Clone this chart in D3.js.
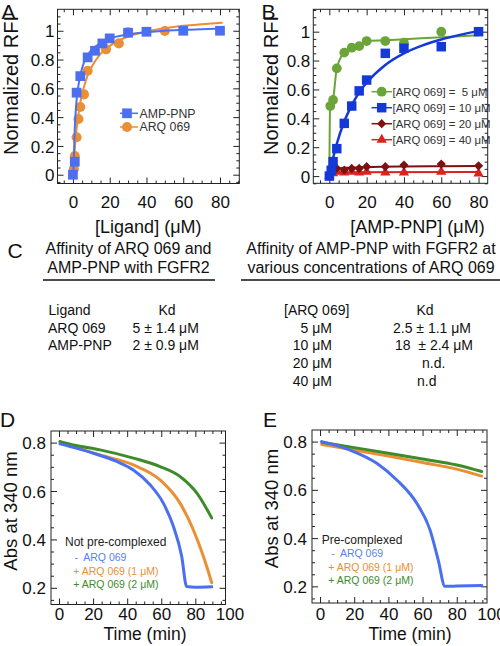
<!DOCTYPE html>
<html><head><meta charset="utf-8">
<script src="https://cdn.jsdelivr.net/npm/d3@7"></script>
<style>
body{margin:0;background:#fff}
svg{display:block}
text{font-family:"Liberation Sans",Arial,Helvetica,sans-serif}
</style>
</head><body>
<svg id="fig" width="500" height="646"></svg>
<script>
// ---------- Panel A data ----------
const aAmpX = [0, 1, 2, 4, 8, 12, 16, 20, 30, 40, 60, 80];
const aAmpY = [0, 0.09, 0.57, 0.685, 0.815, 0.861, 0.912, 0.947, 0.986, 0.993, 1.0, 1.0];
const aArqX = [0.5, 1, 2, 3, 4, 6, 8, 18, 25, 30, 50];
const aArqY = [0.04, 0.13, 0.26, 0.387, 0.47, 0.558, 0.722, 0.871, 0.912, 0.99, 0.998];
const aAmpFitX = [0.2, 1, 2, 3, 4, 6, 8, 10, 15, 20, 30, 40, 50, 60, 70, 81];
const aAmpFitY = [0, 0.32, 0.52, 0.62, 0.69, 0.78, 0.83, 0.865, 0.915, 0.945, 0.975, 0.99, 1.0, 1.006, 1.011, 1.015];
const aArqFitX = [0.5, 1, 2, 3, 4, 6, 8, 10, 15, 20, 30, 40, 50, 60, 70, 81];
const aArqFitY = [0.05, 0.18, 0.32, 0.42, 0.5, 0.61, 0.69, 0.745, 0.84, 0.895, 0.96, 0.995, 1.018, 1.034, 1.045, 1.055];
const aLegend = ["AMP-PNP", "ARQ 069"];

// ---------- Panel B data ----------
const b5X = [0.5, 2, 4, 8, 12, 16, 20, 30, 40, 60];
const b5Y = [0.485, 0.527, 0.746, 0.855, 0.889, 0.90, 0.935, 0.935, 0.924, 1.0];
const b10X = [0, 1, 2, 4, 8, 12, 16, 20, 30, 40, 60, 80];
const b10Y = [0, 0.04, 0.1, 0.19, 0.365, 0.485, 0.59, 0.665, 0.85, 0.885, 0.896, 1.0];
const b20X = [0, 1, 2, 4, 8, 12, 16, 20, 30, 40, 60, 80];
const b20Y = [0, 0.03, 0.045, 0.053, 0.042, 0.053, 0.053, 0.065, 0.065, 0.076, 0.083, 0.071];
const b40X = [0, 2, 4, 8, 12, 16, 20, 30, 40, 60, 80];
const b40Y = [0, 0.02, 0.03, 0.025, 0.03, 0.025, 0.03, 0.025, 0.025, 0.03, 0.018];
const b5FitX = [0, 0.4, 2, 4, 8, 12, 16, 20, 30, 40, 60, 80];
const b5FitY = [0, 0.48, 0.53, 0.746, 0.855, 0.885, 0.9, 0.935, 0.94, 0.947, 0.962, 0.975];
const b10FitX = [0, 1, 2, 4, 8, 12, 16, 20, 30, 40, 50, 60, 70, 80];
const b10FitY = [0, 0.065, 0.124, 0.224, 0.378, 0.49, 0.58, 0.647, 0.77, 0.85, 0.905, 0.946, 0.978, 1.004];
const b20FitX = [0, 1, 2, 4, 8, 20, 40, 60, 80];
const b20FitY = [0, 0.03, 0.045, 0.052, 0.057, 0.062, 0.066, 0.068, 0.07];
const b40FitX = [0, 1, 2, 4, 80];
const b40FitY = [0, 0.015, 0.022, 0.026, 0.028];
const bLegend = ["[ARQ 069] =  5 \u03bcM", "[ARQ 069] = 10 \u03bcM", "[ARQ 069] = 20 \u03bcM", "[ARQ 069] = 40 \u03bcM"];

// ---------- Panel C table ----------
const cLeftHead = ["Affinity of ARQ 069 and", "AMP-PNP with FGFR2"];
const cRightHead = ["Affinity of AMP-PNP with FGFR2 at", "various concentrations of ARQ 069"];
const cLigands = ["ARQ 069", "AMP-PNP"];
const cLigandKd = ["5 \u00b1 1.4 \u03bcM", "2 \u00b1 0.9 \u03bcM"];
const cArqConc = ["5 \u03bcM", "10 \u03bcM", "20 \u03bcM", "40 \u03bcM"];
const cArqKd = ["2.5 \u00b1 1.1 \u03bcM", "18  \u00b1 2.4 \u03bcM", "n.d.", "n.d"];

// ---------- Panel D data (not pre-complexed) ----------
const dBlueX = [0.6, 10, 20.1, 33.9, 43.6, 53.4, 61.2, 67.1, 72.0, 74.9, 80, 89.6];
const dBlueY = [0.795, 0.777, 0.756, 0.722, 0.687, 0.626, 0.55, 0.454, 0.33, 0.205, 0.202, 0.204];
const dOrangeX = [0.6, 10, 24.1, 43.6, 59.3, 71.0, 78.8, 84.7, 89.6];
const dOrangeY = [0.804, 0.78, 0.749, 0.708, 0.646, 0.55, 0.44, 0.33, 0.221];
const dGreenX = [0.6, 10, 24.1, 43.6, 59.3, 71.0, 80.8, 89.6];
const dGreenY = [0.804, 0.788, 0.77, 0.736, 0.701, 0.66, 0.592, 0.489];

// ---------- Panel E data (pre-complexed) ----------
const eBlueX = [1.0, 17.6, 33.2, 44.9, 56.6, 64.4, 69.2, 73.1, 80, 94.6];
const eBlueY = [0.8, 0.765, 0.71, 0.641, 0.544, 0.433, 0.308, 0.2, 0.201, 0.204];
const eOrangeX = [1, 20, 40, 60, 80, 94.6];
const eOrangeY = [0.788, 0.765, 0.74, 0.713, 0.686, 0.657];
const eGreenX = [1, 20, 40, 60, 80, 94.6];
const eGreenY = [0.797, 0.775, 0.752, 0.728, 0.703, 0.676];
const legendD = ["Not pre-complexed", "-  ARQ 069", "+ ARQ 069 (1 \u03bcM)", "+ ARQ 069 (2 \u03bcM)"];
const legendE = ["Pre-complexed", "-  ARQ 069", "+ ARQ 069 (1 \u03bcM)", "+ ARQ 069 (2 \u03bcM)"];

// ---------- tick labels ----------
const rfiTicks = [0, 0.2, 0.4, 0.6, 0.8, 1];
const rfiLabels = ["0", "0.2", "0.4", "0.6", "0.8", "1"];
const concTicks = [0, 20, 40, 60, 80];
const absTicks = [0.2, 0.4, 0.6, 0.8];
const absLabels = ["0.2", "0.4", "0.6", "0.8"];
const timeTicks = [0, 20, 40, 60, 80, 100];

const zip = (xs, ys) => xs.map((x, i) => [x, ys[i]]);
const svg = d3.select("#fig");
const INK = "#111";

function makePanel(c) {
  const x = d3.scaleLinear().domain(c.xd).range([c.l, c.r]);
  const y = d3.scaleLinear().domain(c.yd).range([c.b, c.t]);
  const g = svg.append("g");
  const inX = v => v >= c.xd[0] && v <= c.xd[1];
  const inY = v => v >= c.yd[0] && v <= c.yd[1];
  const xMajor = c.xTicks.filter(inX), yMajor = c.yTicks.filter(inY);
  const xMinor = d3.range(Math.ceil(c.xd[0] / c.xMinor) * c.xMinor, c.xd[1], c.xMinor)
      .filter(v => !xMajor.some(m => Math.abs(m - v) < 1e-6));
  const yMinor = d3.range(Math.ceil(c.yd[0] / c.yMinor - 1e-6) * c.yMinor, c.yd[1], c.yMinor)
      .filter(v => !yMajor.some(m => Math.abs(m - v) < 1e-6));
  const tickG = (axis, tr) => {
    const a = g.append("g").attr("transform", tr).call(axis);
    a.select(".domain").remove();
    a.selectAll("line").attr("stroke", "#222").attr("stroke-width", 1);
    return a;
  };
  tickG(d3.axisBottom(x).tickValues(xMajor).tickSize(-6).tickFormat(""), `translate(0,${c.b})`);
  tickG(d3.axisBottom(x).tickValues(xMinor).tickSize(-3).tickFormat(""), `translate(0,${c.b})`);
  tickG(d3.axisTop(x).tickValues(xMajor).tickSize(-6).tickFormat(""), `translate(0,${c.t})`);
  tickG(d3.axisTop(x).tickValues(xMinor).tickSize(-3).tickFormat(""), `translate(0,${c.t})`);
  tickG(d3.axisLeft(y).tickValues(yMajor).tickSize(-6).tickFormat(""), `translate(${c.l},0)`);
  tickG(d3.axisLeft(y).tickValues(yMinor).tickSize(-3).tickFormat(""), `translate(${c.l},0)`);
  tickG(d3.axisRight(y).tickValues(yMajor).tickSize(-6).tickFormat(""), `translate(${c.r},0)`);
  tickG(d3.axisRight(y).tickValues(yMinor).tickSize(-3).tickFormat(""), `translate(${c.r},0)`);
  const xl = tickG(d3.axisBottom(x).tickValues(c.xTicks).tickSize(0).tickFormat(d => String(d)), `translate(0,${c.b})`);
  xl.selectAll("text").attr("y", c.xLabOff).attr("dy", null)
    .style("font-size", "17px").style("fill", INK);
  const yl = tickG(d3.axisLeft(y).tickValues(c.yTicks).tickSize(0).tickFormat((d, i) => c.yLabels[i]), `translate(${c.l},0)`);
  yl.selectAll("text").attr("x", -c.yLabGap).attr("dy", "0.36em")
    .style("font-size", "17px").style("fill", INK);
  g.append("rect").attr("x", c.l).attr("y", c.t).attr("width", c.r - c.l).attr("height", c.b - c.t)
    .attr("fill", "none").attr("stroke", "#222").attr("stroke-width", 1);
  g.append("text").attr("x", c.xtX).attr("y", c.xtY).attr("text-anchor", "middle")
    .style("font-size", c.xtSize + "px").style("fill", INK).text(c.xTitle);
  g.append("text").attr("transform", `translate(${c.ytX},${c.ytY}) rotate(-90)`).attr("text-anchor", "middle")
    .style("font-size", c.ytSize + "px").style("fill", INK).text(c.yTitle);
  g.append("text").attr("x", c.letX).attr("y", c.letY).style("font-size", "21px").style("fill", INK).text(c.letter);
  const plot = g.append("g");
  return {x, y, g: plot};
}

function line(p, pts, color, w) {
  p.g.append("path").datum(pts)
    .attr("d", d3.line().x(d => p.x(d[0])).y(d => p.y(d[1])).curve(d3.curveMonotoneX))
    .attr("fill", "none").attr("stroke", color).attr("stroke-width", w)
    .attr("stroke-linejoin", "round").attr("stroke-linecap", "round");
}
function marks(p, pts, type, size, color, rot) {
  p.g.selectAll(null).data(pts).enter().append("path")
    .attr("d", d3.symbol().type(type).size(size))
    .attr("transform", d => `translate(${p.x(d[0])},${p.y(d[1])})` + (rot ? ` rotate(${rot})` : ""))
    .attr("fill", color);
}

// ---------- Panel A ----------
const cBlueA = "#4b6ff0", cOrangeA = "#e98f35";
const pA = makePanel({l: 57.5, r: 239.3, t: 9.3, b: 183.5, xd: [-8.4, 90.5], yd: [-0.061, 1.149],
  xTicks: concTicks, xMinor: 5, yTicks: rfiTicks, yLabels: rfiLabels, yMinor: 0.05,
  xLabOff: 24.5, yLabGap: 3, xTitle: "[Ligand] (\u03bcM)", xtX: 148.3, xtY: 233, xtSize: 18,
  yTitle: "Normalized RFI", ytX: 17.5, ytY: 85.5, ytSize: 20, letter: "A", letX: 1.5, letY: 18.5});
line(pA, zip(aArqFitX, aArqFitY), cOrangeA, 2);
marks(pA, zip(aArqX, aArqY), d3.symbolCircle, 80, cOrangeA);
line(pA, zip(aAmpFitX, aAmpFitY), cBlueA, 2);
marks(pA, zip(aAmpX, aAmpY), d3.symbolSquare, 95, cBlueA);
[[cBlueA, d3.symbolSquare, 95, 113.3], [cOrangeA, d3.symbolCircle, 80, 127]].forEach((s, i) => {
  svg.append("line").attr("x1", 120).attr("x2", 138).attr("y1", s[3]).attr("y2", s[3])
    .attr("stroke", s[0]).attr("stroke-width", 1.5);
  svg.append("path").attr("d", d3.symbol().type(s[1]).size(s[2]))
    .attr("transform", `translate(127,${s[3]})`).attr("fill", s[0]);
  svg.append("text").attr("x", 139.5).attr("y", s[3] + 4.3).style("font-size", "12.3px")
    .style("fill", "#333").text(aLegend[i]);
});

// ---------- Panel B ----------
const cGreenB = "#6ba53a", cBlueB = "#1539d8", cDarkRedB = "#7d1010", cRedB = "#d8231f";
const pB = makePanel({l: 313.3, r: 487.7, t: 9.3, b: 183.3, xd: [-8.6, 84.9], yd: [-0.05, 1.155],
  xTicks: concTicks, xMinor: 5, yTicks: rfiTicks, yLabels: rfiLabels, yMinor: 0.05,
  xLabOff: 24.5, yLabGap: 3, xTitle: "[AMP-PNP] (\u03bcM)", xtX: 417.5, xtY: 233, xtSize: 18,
  yTitle: "Normalized RFI", ytX: 278, ytY: 85.5, ytSize: 20, letter: "B", letX: 261.5, letY: 18.5});
line(pB, zip(b40FitX, b40FitY), cRedB, 2);
marks(pB, zip(b40X, b40Y), d3.symbolTriangle, 45, cRedB);
line(pB, zip(b20FitX, b20FitY), cDarkRedB, 2);
marks(pB, zip(b20X, b20Y), d3.symbolSquare, 42, cDarkRedB, 45);
line(pB, zip(b5FitX, b5FitY), cGreenB, 2);
marks(pB, zip(b5X, b5Y), d3.symbolCircle, 75, cGreenB);
line(pB, zip(b10FitX, b10FitY), cBlueB, 2.5);
marks(pB, zip(b10X, b10Y), d3.symbolSquare, 90, cBlueB);
[[cGreenB, d3.symbolCircle, 75, 0], [cBlueB, d3.symbolSquare, 90, 0], [cDarkRedB, d3.symbolSquare, 42, 45], [cRedB, d3.symbolTriangle, 45, 0]]
  .forEach((s, i) => {
    const yy = 91.7 + i * 16;
    svg.append("line").attr("x1", 371.5).attr("x2", 392).attr("y1", yy).attr("y2", yy)
      .attr("stroke", s[0]).attr("stroke-width", 1.5);
    svg.append("path").attr("d", d3.symbol().type(s[1]).size(s[2]))
      .attr("transform", `translate(381.7,${yy})` + (s[3] ? ` rotate(${s[3]})` : "")).attr("fill", s[0]);
    svg.append("text").attr("x", 392.5).attr("y", yy + 4).style("font-size", "11.4px")
      .style("fill", "#333").style("white-space", "pre").attr("xml:space", "preserve").text(bLegend[i]);
  });

// ---------- Panel C ----------
const gc = svg.append("g");
const T = (x, y, s, size, anchor) => gc.append("text").attr("x", x).attr("y", y)
  .attr("text-anchor", anchor || "start").attr("xml:space", "preserve").style("white-space", "pre")
  .style("font-size", size).style("fill", INK).text(s);
T(7.5, 258, "C", "21px");
cLeftHead.forEach((t, i) => T(128.5, 254 + i * 18.7, t, "16px", "middle"));
cRightHead.forEach((t, i) => T(371, 254 + i * 18.7, t, "16px", "middle"));
gc.append("line").attr("x1", 43).attr("x2", 215).attr("y1", 280).attr("y2", 280).attr("stroke", "#111").attr("stroke-width", 1.3);
gc.append("line").attr("x1", 241).attr("x2", 500).attr("y1", 280).attr("y2", 280).attr("stroke", "#111").attr("stroke-width", 1.3);
const rowY = i => 315 + i * 17.7;
const ts = "14px";
T(48.5, rowY(0), "Ligand", ts);
T(167, rowY(0), "Kd", ts, "middle");
cLigands.forEach((t, i) => {
  T(48, rowY(i + 1), t, ts);
  T(132.5, rowY(i + 1), cLigandKd[i], ts);
});
T(316.7, rowY(0), "[ARQ 069]", ts, "middle");
T(425, rowY(0), "Kd", ts, "middle");
const kdX = [393, 395, 422, 417];
cArqConc.forEach((t, i) => {
  T(332, rowY(i + 1), t, ts, "end");
  T(kdX[i], rowY(i + 1), cArqKd[i], ts);
});

// ---------- Panels D & E ----------
const cBlueD = "#4a70f0", cOrangeD = "#eb8f33", cGreenD = "#3e8b2b";
const legCols = ["#222", "#5a7ff2", "#e98f35", "#3e8b2b"];
function kinPanel(cfg, blue, orange, green, leg, legX, legY, itemX) {
  const p = makePanel(cfg);
  line(p, orange, cOrangeD, 3);
  line(p, green, cGreenD, 3);
  line(p, blue, cBlueD, 3);
  leg.forEach((t, i) => {
    svg.append("text").attr("x", i === 0 ? legX : itemX[i - 1]).attr("y", legY[i])
      .attr("xml:space", "preserve").style("white-space", "pre")
      .style("font-size", i === 0 ? "12px" : "10.5px").style("fill", legCols[i]).text(t);
  });
}
const commonKin = {xd: [-4.7, 97.7], yd: [0.131, 0.848], xTicks: timeTicks, xMinor: 5,
  yTicks: absTicks, yLabels: absLabels, yMinor: 0.05, yLabGap: 5,
  xTitle: "Time (min)", xtY: 640, xtSize: 17.5, yTitle: "Abs at 340 nm", ytSize: 18.5};
kinPanel(Object.assign({}, commonKin, {l: 51, r: 225.5, t: 431, b: 604.5, xLabOff: 15.5, xtX: 145, ytX: 16.7, ytY: 511,
  letter: "D", letX: 0, letY: 426.7}),
  zip(dBlueX, dBlueY), zip(dOrangeX, dOrangeY), zip(dGreenX, dGreenY),
  legendD, 65, [546, 560.5, 574.5, 588], [74.5, 73.3, 73.3]);
kinPanel(Object.assign({}, commonKin, {l: 312, r: 487, t: 430, b: 603, xLabOff: 17, xtX: 410, ytX: 278.3, ytY: 508.5,
  letter: "E", letX: 263, letY: 426.7}),
  zip(eBlueX, eBlueY), zip(eOrangeX, eOrangeY), zip(eGreenX, eGreenY),
  legendE, 321.7, [544, 557, 570.5, 584], [331.2, 328.3, 328.3]);
</script>
</body></html>
